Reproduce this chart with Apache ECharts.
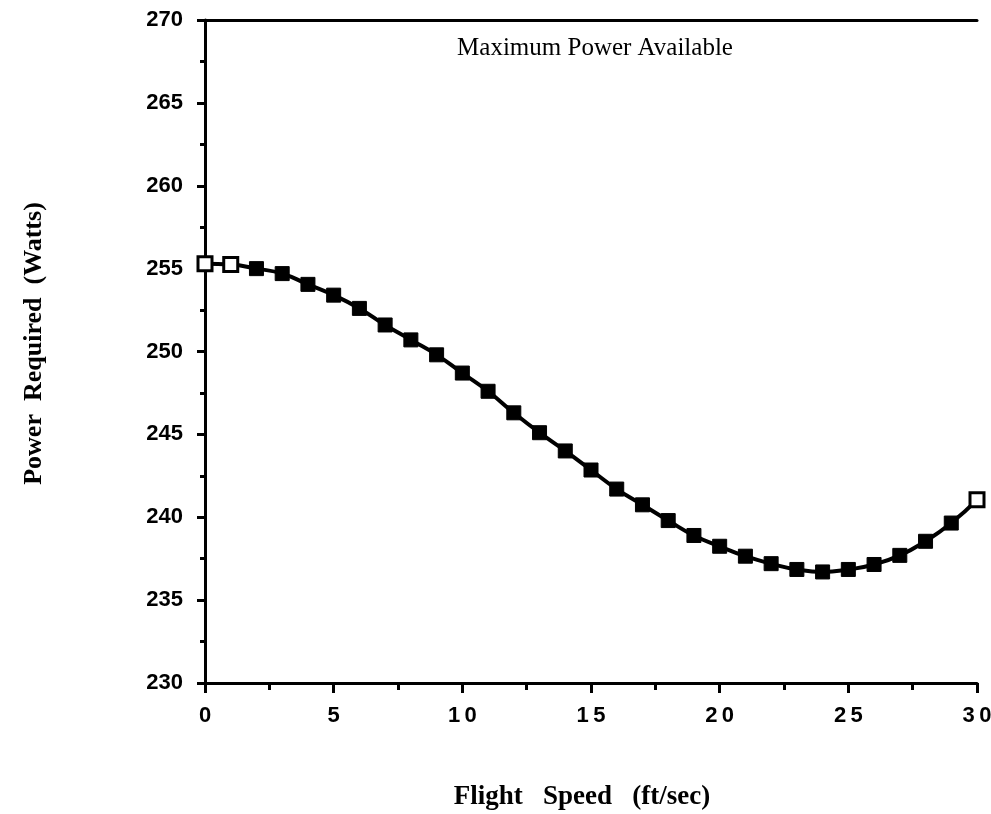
<!DOCTYPE html>
<html>
<head>
<meta charset="utf-8">
<script src="https://cdn.jsdelivr.net/npm/echarts@6/dist/echarts.min.js"></script>
<style>
  html, body { margin: 0; padding: 0; background: #fff; }
  #main { width: 991px; height: 814px; }
</style>
</head>
<body>
<div id="main"></div>
<script>
  // flight speed (ft/sec) and power required (W)
  var speeds = [0, 1, 2, 3, 4, 5, 6, 7, 8, 9, 10, 11, 12, 13, 14, 15,
    16, 17, 18, 19, 20, 21, 22, 23, 24, 25, 26, 27, 28, 29, 30]
  var power = [255.3, 255.25, 255.0, 254.7, 254.05, 253.4, 252.6, 251.6, 250.7, 249.8,
    248.7, 247.6, 246.3, 245.1, 244.0, 242.85, 241.7, 240.75, 239.8, 238.9,
    238.25, 237.65, 237.2, 236.85, 236.7, 236.85, 237.15, 237.7, 238.55, 239.65, 241.05]
  var hollow = [0, 1, 30] // markers drawn open in the original

  var chart = echarts.init(document.getElementById('main'))

  var pts = speeds.map(function (s, i) {
    var p = { value: [s, power[i]] }
    if (hollow.indexOf(i) >= 0) {
      p.itemStyle = { color: '#fff', borderColor: '#000', borderWidth: 3 }
    }
    return p
  })

  var tickFont = { fontFamily: 'Liberation Sans, Arial', fontWeight: 'bold', fontSize: 22, color: '#000' }
  var titleFont = { fontFamily: 'Liberation Serif, Times New Roman', fontWeight: 'bold', color: '#000' }

  chart.setOption({
    animation: false,
    backgroundColor: '#fff',
    grid: { left: 205, right: 14, top: 20, bottom: 131, containLabel: false, outerBoundsMode: 'none' },
    title: {
      text: 'Maximum Power Available',
      left: 590,
      top: 31,
      textAlign: 'center',
      textStyle: { fontFamily: 'Liberation Serif, Times New Roman', fontWeight: 'normal', fontSize: 25, color: '#000' }
    },
    xAxis: [{
      type: 'value',
      min: 0, max: 30, interval: 5,
      name: 'Flight   Speed   (ft/sec)',
      nameLocation: 'middle',
      nameGap: 101,
      nameTextStyle: Object.assign({ fontSize: 27, padding: [0, 18, 0, 0] }, titleFont),
      axisLine: { lineStyle: { color: '#000', width: 3 } },
      axisTick: { inside: false, length: 10, lineStyle: { color: '#000', width: 3 } },
      minorTick: { show: true, splitNumber: 2, length: 7, lineStyle: { color: '#000', width: 3 } },
      splitLine: { show: false },
      axisLabel: Object.assign({ margin: 22, formatter: function (v) { return String(v).split('').join('\u2009') } }, tickFont)
    }, {
      type: 'value',
      position: 'top',
      min: 0, max: 30,
      axisLine: { show: true, lineStyle: { color: '#000', width: 3 } },
      axisTick: { show: false },
      axisLabel: { show: false },
      splitLine: { show: false }
    }],
    yAxis: {
      type: 'value',
      min: 230, max: 270, interval: 5,
      name: 'Power  Required  (Watts)',
      nameLocation: 'middle',
      nameGap: 158,
      nameTextStyle: Object.assign({ fontSize: 26, padding: [0, 0, 0, 16] }, titleFont),
      axisLine: { show: true, lineStyle: { color: '#000', width: 3 } },
      axisTick: { show: true, length: 8, lineStyle: { color: '#000', width: 3 } },
      minorTick: { show: true, splitNumber: 2, length: 5, lineStyle: { color: '#000', width: 3 } },
      splitLine: { show: false },
      axisLabel: Object.assign({ margin: 22 }, tickFont)
    },
    series: [{
      type: 'line',
      data: pts,
      smooth: true,
      symbol: 'rect',
      symbolSize: 14,
      lineStyle: { color: '#000', width: 4 },
      itemStyle: { color: '#000', borderColor: '#000', borderWidth: 1 }
    }]
  })
</script>
</body>
</html>
